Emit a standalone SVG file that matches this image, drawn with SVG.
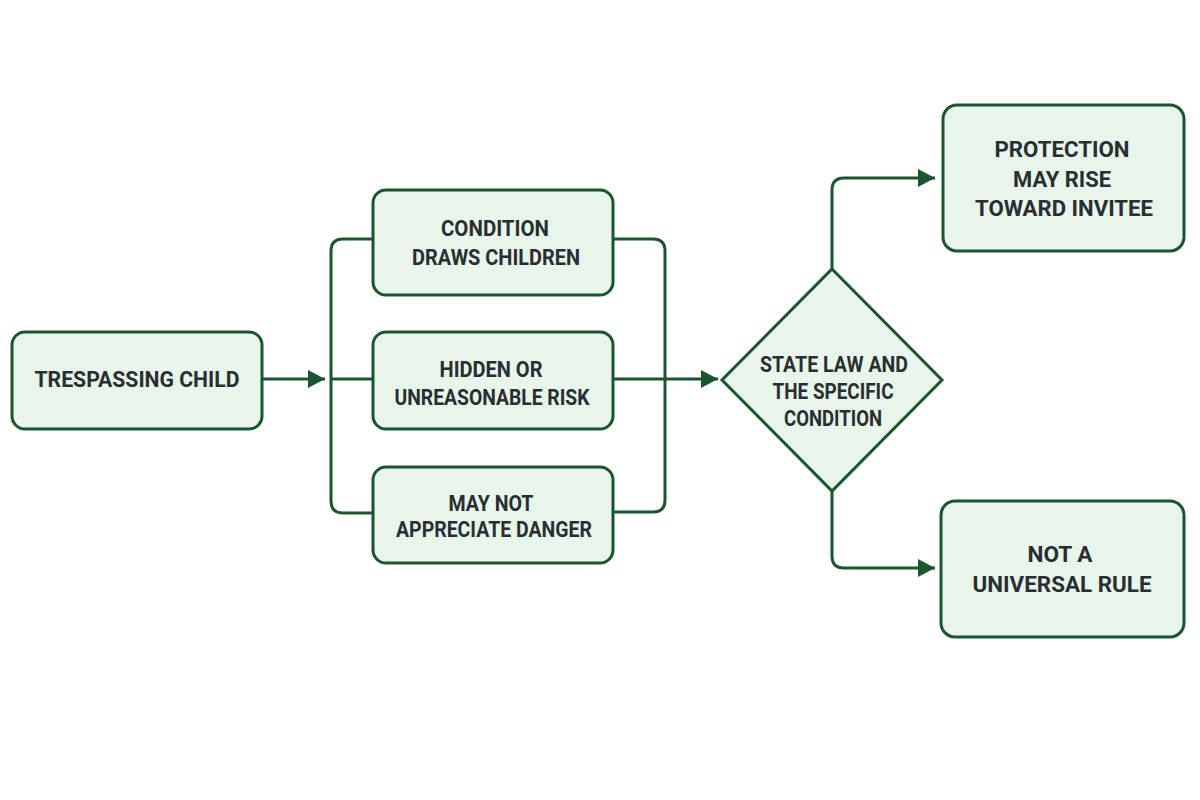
<svg xmlns="http://www.w3.org/2000/svg" width="1200" height="800" viewBox="0 0 1200 800">
<defs>
<style>
.node{fill:#e7f5ea;stroke:#1b5530;stroke-width:3}
.lbl{font-family:Roboto,"Liberation Sans",sans-serif;font-weight:700;font-size:22px;fill:#2a2e33;text-anchor:middle}
.con{fill:none;stroke:#1b5530;stroke-width:3}
</style>
<marker id="arr" markerUnits="userSpaceOnUse" markerWidth="18" markerHeight="20" refX="17" refY="10" orient="auto">
<path d="M0,1 L17,10 L0,19 z" fill="#1b5530"/>
</marker>
</defs>
<rect width="1200" height="800" fill="#ffffff"/>
<g id="connectors">
<path class="con" d="M262 379 H325" marker-end="url(#arr)"/>
<path class="con" d="M373 239 H343 Q331 239 331 251 V501 Q331 513 343 513 H373"/>
<path class="con" d="M331 379 H373"/>
<path class="con" d="M613 239 H653 Q665 239 665 251 V500 Q665 512 653 512 H613"/>
<path class="con" d="M613 379 H718" marker-end="url(#arr)"/>
<path class="con" d="M832 269 V190 Q832 178 844 178 H935" marker-end="url(#arr)"/>
<path class="con" d="M832 491 V556 Q832 568 844 568 H935" marker-end="url(#arr)"/>
</g>
<g id="trespassing-child">
<rect class="node" x="12" y="332" width="250" height="97" rx="13"/>
<text class="lbl" x="137" y="387" textLength="205" lengthAdjust="spacingAndGlyphs">TRESPASSING CHILD</text>
</g>
<g id="condition-draws-children">
<rect class="node" x="373" y="190" width="240" height="105" rx="13"/>
<text class="lbl" x="495" y="236" textLength="108" lengthAdjust="spacingAndGlyphs">CONDITION</text>
<text class="lbl" x="496" y="265" textLength="168" lengthAdjust="spacingAndGlyphs">DRAWS CHILDREN</text>
</g>
<g id="hidden-risk">
<rect class="node" x="373" y="332" width="240" height="97" rx="13"/>
<text class="lbl" x="491" y="377" textLength="103" lengthAdjust="spacingAndGlyphs">HIDDEN OR</text>
<text class="lbl" x="492" y="405" textLength="195" lengthAdjust="spacingAndGlyphs">UNREASONABLE RISK</text>
</g>
<g id="may-not-appreciate">
<rect class="node" x="373" y="467" width="240" height="96" rx="13"/>
<text class="lbl" x="491" y="511" textLength="85" lengthAdjust="spacingAndGlyphs">MAY NOT</text>
<text class="lbl" x="494" y="537" textLength="196" lengthAdjust="spacingAndGlyphs">APPRECIATE DANGER</text>
</g>
<g id="state-law">
<polygon class="node" points="832,269 942,380 832,491 722,380"/>
<text class="lbl" x="834" y="372" textLength="148" lengthAdjust="spacingAndGlyphs">STATE LAW AND</text>
<text class="lbl" x="833" y="399" textLength="121" lengthAdjust="spacingAndGlyphs">THE SPECIFIC</text>
<text class="lbl" x="833" y="426" textLength="98" lengthAdjust="spacingAndGlyphs">CONDITION</text>
</g>
<g id="protection">
<rect class="node" x="943" y="105" width="241" height="146" rx="14"/>
<text class="lbl" x="1062" y="157" textLength="135" lengthAdjust="spacingAndGlyphs">PROTECTION</text>
<text class="lbl" x="1062" y="187" textLength="98" lengthAdjust="spacingAndGlyphs">MAY RISE</text>
<text class="lbl" x="1064" y="216" textLength="178" lengthAdjust="spacingAndGlyphs">TOWARD INVITEE</text>
</g>
<g id="not-universal">
<rect class="node" x="941" y="501" width="243" height="136" rx="14"/>
<text class="lbl" x="1060" y="562" textLength="65" lengthAdjust="spacingAndGlyphs">NOT A</text>
<text class="lbl" x="1062" y="592" textLength="179" lengthAdjust="spacingAndGlyphs">UNIVERSAL RULE</text>
</g>
</svg>
